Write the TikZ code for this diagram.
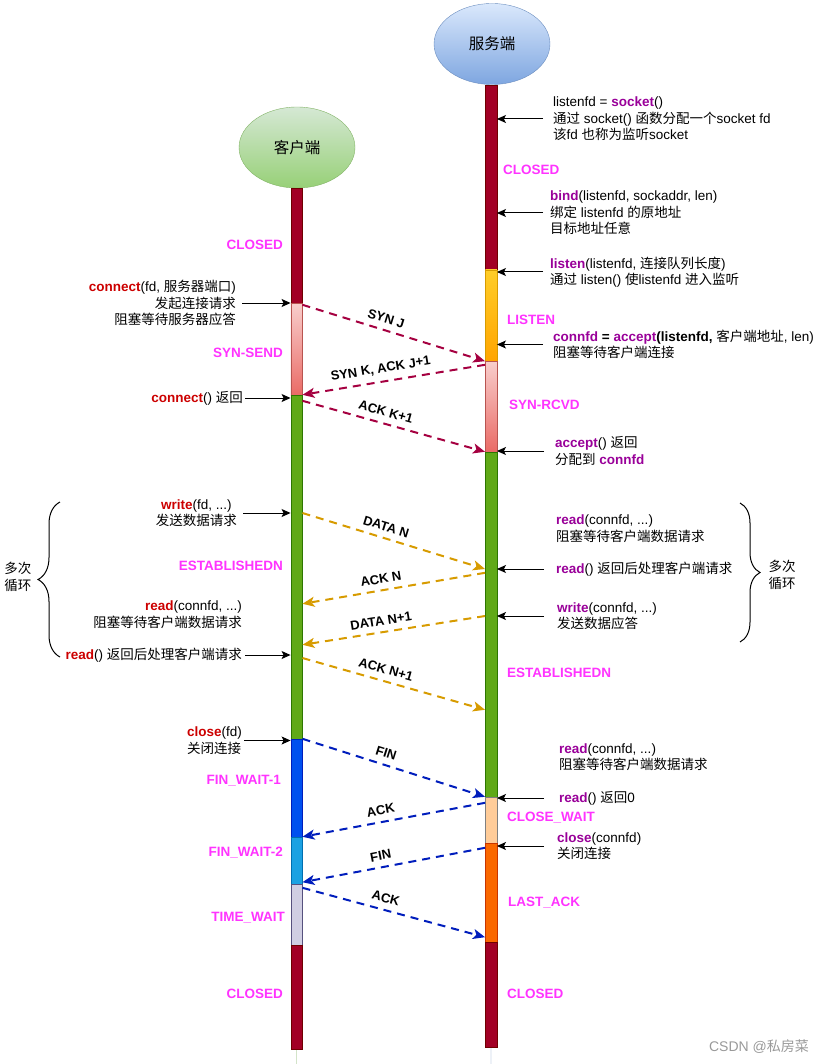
\documentclass[tikz,border=0pt]{standalone}
\usepackage{fontspec}
\setmainfont{Liberation Sans}
\newfontfamily\cjk{Noto Sans CJK SC}
\XeTeXinterchartokenstate=1
\newXeTeXintercharclass\cjkclass
\newcount\cjkcode
\cjkcode="3000
\loop\ifnum\cjkcode<"A000
	\XeTeXcharclass\cjkcode=\cjkclass
	\advance\cjkcode by 1
\repeat
\XeTeXinterchartoks 0 \cjkclass={\begingroup\cjk}
\XeTeXinterchartoks 4095 \cjkclass={\begingroup\cjk}
\XeTeXinterchartoks \cjkclass 0={\endgroup}
\XeTeXinterchartoks \cjkclass 4095={\endgroup}
\usepackage{tikz}
\usetikzlibrary{arrows.meta,calc,shapes.geometric,decorations.pathreplacing}

\definecolor{closedfill}{HTML}{A20025}
\definecolor{closedline}{HTML}{6F0000}
\definecolor{pinktop}{HTML}{F8CECC}
\definecolor{pinkbot}{HTML}{EA6B66}
\definecolor{pinkline}{HTML}{B85450}
\definecolor{listentop}{HTML}{FFCD28}
\definecolor{listenbot}{HTML}{FFA500}
\definecolor{listenline}{HTML}{D79B00}
\definecolor{estfill}{HTML}{60A917}
\definecolor{estline}{HTML}{2D7600}
\definecolor{fin1fill}{HTML}{0050EF}
\definecolor{fin1line}{HTML}{001DBC}
\definecolor{fin2fill}{HTML}{1BA1E2}
\definecolor{fin2line}{HTML}{006EAF}
\definecolor{timefill}{HTML}{D0CEE2}
\definecolor{timeline}{HTML}{56517E}
\definecolor{cwaitfill}{HTML}{FFCC99}
\definecolor{cwaitline}{HTML}{808080}
\definecolor{lastfill}{HTML}{FA6800}
\definecolor{lastline}{HTML}{C73500}
\definecolor{clienttop}{HTML}{D5E8D4}
\definecolor{clientbot}{HTML}{97D077}
\definecolor{clientline}{HTML}{82B366}
\definecolor{servertop}{HTML}{DAE8FC}
\definecolor{serverbot}{HTML}{7EA6E0}
\definecolor{serverline}{HTML}{6C8EBF}
\definecolor{synclr}{HTML}{A50040}
\definecolor{dataclr}{HTML}{D79B00}
\definecolor{finclr}{HTML}{001DBC}
\definecolor{fnred}{HTML}{CC0000}
\definecolor{fnpurple}{HTML}{990099}
\definecolor{statepink}{HTML}{FF33FF}

\newcommand\cfun[1]{\textbf{\textcolor{fnred}{#1}}}
\newcommand\sfun[1]{\textbf{\textcolor{fnpurple}{#1}}}

\begin{document}
\begin{tikzpicture}[x=1pt,y=-1pt,
	every node/.style={inner sep=0pt,font=\fontsize{13.5}{16.5}\selectfont},
	seg/.style={draw=#1,rectangle,minimum width=11.5pt,inner sep=0pt},
	party/.style={ellipse,draw=#1,minimum width=116pt,minimum height=81pt,font=\fontsize{15.5}{18}\selectfont},
	statelbl/.style={text=statepink,font=\fontsize{13.5}{16}\selectfont\bfseries},
	msg/.style={draw=#1,line width=2pt,dash pattern=on 8pt off 6pt,-{Stealth[length=12pt,width=10pt,inset=3pt]}},
	msglabel/.style={text=black,sloped,above=6pt,font=\fontsize{13}{15}\selectfont\bfseries},
	notearrow/.style={draw=black,line width=1pt,-{Stealth[length=9pt,width=8pt,inset=2pt]}},
	loopbrace/.style={draw=black,line width=1pt,decorate,decoration={brace,amplitude=#1}}]

	\useasboundingbox (0,0) rectangle (825,1064);

	\node[party=clientline,top color=clienttop,bottom color=clientbot] (client)
		at (297,147.5) {客户端};
	\node[party=serverline,top color=servertop,bottom color=serverbot] (server)
		at (492,44) {服务端};

	\coordinate (cEnd) at (296.5,1064);
	\coordinate (sEnd) at (491,1064);
	\draw[clientline] (client.south) -- (cEnd);
	\draw[serverline] (server.south) -- (sEnd);

	\node[seg=closedline,fill=closedfill,minimum height=115pt] (cClosed)
		at (296.5,245.5) {};
	\node[seg=pinkline,top color=pinktop,bottom color=pinkbot,minimum height=92pt] (cSynSend)
		at (296.5,349) {};
	\node[seg=estline,fill=estfill,minimum height=344pt] (cEstab)
		at (296.5,567) {};
	\node[seg=fin1line,fill=fin1fill,minimum height=98pt] (cFinW1)
		at (296.5,788) {};
	\node[seg=fin2line,fill=fin2fill,minimum height=47pt] (cFinW2)
		at (296.5,860.5) {};
	\node[seg=timeline,fill=timefill,minimum height=61pt] (cTimeW)
		at (296.5,914.5) {};
	\node[seg=closedline,fill=closedfill,minimum height=104pt] (cClosedEnd)
		at (296.5,997) {};

	\node[seg=closedline,fill=closedfill,minimum height=185pt] (sClosed)
		at (491,177.5) {};
	\node[seg=listenline,top color=listentop,bottom color=listenbot,minimum height=91pt] (sListen)
		at (491,315.5) {};
	\node[seg=pinkline,top color=pinktop,bottom color=pinkbot,minimum height=91pt] (sSynRcvd)
		at (491,406.5) {};
	\node[seg=estline,fill=estfill,minimum height=345pt] (sEstab)
		at (491,624.5) {};
	\node[seg=cwaitline,fill=cwaitfill,minimum height=46pt] (sCloseW)
		at (491,820) {};
	\node[seg=lastline,fill=lastfill,minimum height=99pt] (sLastAck)
		at (491,892.5) {};
	\node[seg=closedline,fill=closedfill,minimum height=105pt] (sClosedEnd)
		at (491,994.5) {};

	\node[statelbl,anchor=east] (lcClosed) at (283,245) {CLOSED};
	\node[statelbl,anchor=east] (lcSynSend) at (283,353) {SYN-SEND};
	\node[statelbl,anchor=east] (lcEstab) at (283,566) {ESTABLISHEDN};
	\node[statelbl,anchor=east] (lcFinW1) at (281,781) {FIN\_WAIT-1};
	\node[statelbl,anchor=east] (lcFinW2) at (283,853) {FIN\_WAIT-2};
	\node[statelbl,anchor=east] (lcTimeW) at (285,918) {TIME\_WAIT};
	\node[statelbl,anchor=east] (lcClosedEnd) at (283,994) {CLOSED};

	\node[statelbl,anchor=west] (lsClosed) at (503,170) {CLOSED};
	\node[statelbl,anchor=west] (lsListen) at (507,320) {LISTEN};
	\node[statelbl,anchor=west] (lsSynRcvd) at (509,405) {SYN-RCVD};
	\node[statelbl,anchor=west] (lsEstab) at (507,673) {ESTABLISHEDN};
	\node[statelbl,anchor=west] (lsCloseW) at (507,818) {CLOSE\_WAIT};
	\node[statelbl,anchor=west] (lsLastAck) at (508,903) {LAST\_ACK};
	\node[statelbl,anchor=west] (lsClosedEnd) at (507,994) {CLOSED};

	\node[anchor=west,align=left] (tSocket) at (553,119)
		{listenfd = \sfun{socket}()\\通过 socket() 函数分配一个socket fd\\该fd 也称为监听socket};
	\node[anchor=west,align=left] (tBind) at (550,213)
		{\sfun{bind}(listenfd, sockaddr, len)\\绑定 listenfd 的原地址\\目标地址任意};
	\node[anchor=west,align=left] (tListen) at (550,272)
		{\sfun{listen}(listenfd, 连接队列长度)\\通过 listen() 使listenfd 进入监听};
	\node[anchor=west,align=left] (tAccept) at (553,344.5)
		{\sfun{connfd} \textbf{=} \sfun{accept}\textbf{(listenfd,} 客户端地址, len)\\阻塞等待客户端连接};
	\node[anchor=west,align=left] (tAcceptRet) at (555,451)
		{\sfun{accept}() 返回\\分配到 \sfun{connfd}};
	\node[anchor=west,align=left] (tRead) at (556,528.5)
		{\sfun{read}(connfd, ...)\\阻塞等待客户端数据请求};
	\node[anchor=west,align=left] (tReadRet) at (556,569)
		{\sfun{read}() 返回后处理客户端请求};
	\node[anchor=west,align=left] (tWrite) at (557,616)
		{\sfun{write}(connfd, ...)\\发送数据应答};
	\node[anchor=west,align=left] (tReadAgain) at (559,757)
		{\sfun{read}(connfd, ...)\\阻塞等待客户端数据请求};
	\node[anchor=west,align=left] (tReadZero) at (559,798)
		{\sfun{read}() 返回0};
	\node[anchor=west,align=left] (tClose) at (557,846)
		{\sfun{close}(connfd)\\关闭连接};

	\node[anchor=east,align=right] (tConnect) at (236,303)
		{\cfun{connect}(fd, 服务器端口)\\发起连接请求\\阻塞等待服务器应答};
	\node[anchor=east,align=right] (tConnRet) at (243,398)
		{\cfun{connect}() 返回};
	\node[anchor=east,align=center] (tWriteC) at (237,513)
		{\cfun{write}(fd, ...)\\发送数据请求};
	\node[anchor=east,align=right] (tReadC) at (242,614.5)
		{\cfun{read}(connfd, ...)\\阻塞等待客户端数据请求};
	\node[anchor=east,align=right] (tReadRetC) at (242,655)
		{\cfun{read}() 返回后处理客户端请求};
	\node[anchor=east,align=left] (tCloseC) at (242,740.5)
		{\cfun{close}(fd)\\关闭连接};

	\draw[notearrow] ($(tSocket.west)+(-10,0)$) -- (tSocket.west -| sClosed.east);
	\draw[notearrow] ($(tBind.west)+(-7,0)$) -- (tBind.west -| sClosed.east);
	\draw[notearrow] ($(tListen.west)+(-7,0)$) -- (tListen.west -| sListen.east);
	\draw[notearrow] ($(tAccept.west)+(-10,0)$) -- (tAccept.west -| sListen.east);
	\draw[notearrow] ($(tAcceptRet.west)+(-11,0)$) -- (tAcceptRet.west -| sEstab.east);
	\draw[notearrow] ($(tReadRet.west)+(-12,0)$) -- (tReadRet.west -| sEstab.east);
	\draw[notearrow] ($(tWrite.west)+(-13,0)$) -- (tWrite.west -| sEstab.east);
	\draw[notearrow] ($(tReadZero.west)+(-15,0)$) -- (tReadZero.west -| sCloseW.east);
	\draw[notearrow] ($(tClose.west)+(-13,0)$) -- (tClose.west -| sLastAck.east);

	\draw[notearrow] ($(tConnect.east)+(6,0)$) -- (tConnect.east -| cClosed.west);
	\draw[notearrow] ($(tConnRet.east)+(2,0)$) -- (tConnRet.east -| cEstab.west);
	\draw[notearrow] ($(tWriteC.east)+(6,0)$) -- (tWriteC.east -| cEstab.west);
	\draw[notearrow] ($(tReadRetC.east)+(3,0)$) -- (tReadRetC.east -| cEstab.west);
	\draw[notearrow] ($(tCloseC.east)+(2,0)$) -- (tCloseC.east -| cFinW1.west);

	\draw[msg=synclr] ($(cSynSend.north east)+(0,2)$) -- node[msglabel,pos=.44] {SYN J} (sListen.south west);
	\draw[msg=synclr] ($(sSynRcvd.north west)+(0,4)$) -- node[msglabel,pos=.56] {SYN K, ACK J+1} (cEstab.north east);
	\draw[msg=synclr] ($(cEstab.north east)+(0,6)$) -- node[msglabel,pos=.44] {ACK K+1} (sEstab.north west);

	\draw[msg=dataclr] (tWriteC.east -| cEstab.east) -- node[msglabel,pos=.44] {DATA N} (tReadRet.west -| sEstab.west);
	\draw[msg=dataclr] ($(sEstab.north west)+(0,121)$) -- node[msglabel,pos=.56] {ACK N} ($(cEstab.north east)+(0,209)$);
	\draw[msg=dataclr] (tWrite.west -| sEstab.west) -- node[msglabel,pos=.56] {DATA N+1} ($(cEstab.north east)+(0,250)$);
	\draw[msg=dataclr] ($(tReadRetC.east -| cEstab.east)+(0,3)$) -- node[msglabel,pos=.44] {ACK N+1} ($(sEstab.north west)+(0,258)$);

	\draw[msg=finclr] (cFinW1.north east) -- node[msglabel,pos=.44] {FIN} (sCloseW.north west);
	\draw[msg=finclr] ($(sCloseW.north west)+(0,6)$) -- node[msglabel,pos=.56] {ACK} (cFinW2.north east);
	\draw[msg=finclr] ($(sLastAck.north west)+(0,5)$) -- node[msglabel,pos=.56] {FIN} ($(cFinW2.south east)+(0,-2)$);
	\draw[msg=finclr] ($(cTimeW.north east)+(0,4)$) -- node[msglabel,pos=.44] {ACK} ($(sLastAck.south west)+(0,-5)$);

	\draw[loopbrace=22pt] (60,657) -- (60,502);
	\node[align=left] (loopC) at (18,577) {多次\\循环};
	\draw[loopbrace=20pt] (740,503) -- (740,642);
	\node[align=left] (loopS) at (782,575) {多次\\循环};

	\node[text=black!40,font=\fontsize{14}{16}\selectfont] (mark) at (759,1047) {CSDN @私房菜};

\end{tikzpicture}
\end{document}
